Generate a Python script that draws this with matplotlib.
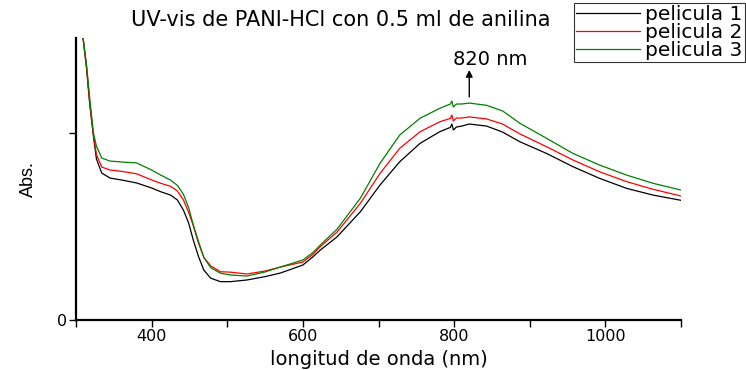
import matplotlib
matplotlib.use("Agg")
import matplotlib.pyplot as plt

# ----------------------------------------------------------------------
# DATA
# ----------------------------------------------------------------------
wavelength = [305, 309, 314, 318, 323, 327, 334, 345, 360, 380, 400, 412, 425,
              434, 442, 449, 455, 462, 469, 478, 491, 504, 526, 550, 570, 600,
              613, 623, 645, 676, 702, 728, 755, 781, 795, 797, 799, 803, 810,
              820, 843, 864, 887, 922, 957, 992, 1028, 1063, 1100]

pelicula_1 = [1.65, 1.519, 1.342, 1.160, 0.984, 0.861, 0.786, 0.759, 0.749,
              0.733, 0.706, 0.686, 0.668, 0.642, 0.588, 0.518, 0.428, 0.339,
              0.267, 0.224, 0.205, 0.205, 0.214, 0.232, 0.251, 0.294, 0.337,
              0.374, 0.444, 0.579, 0.722, 0.846, 0.945, 1.007, 1.030, 1.048,
              1.016, 1.032, 1.037, 1.048, 1.037, 1.005, 0.953, 0.891, 0.820,
              0.758, 0.704, 0.668, 0.640]

pelicula_2 = [1.65, 1.519, 1.350, 1.170, 0.990, 0.885, 0.818, 0.802, 0.795,
              0.782, 0.749, 0.731, 0.715, 0.690, 0.642, 0.575, 0.505, 0.410,
              0.335, 0.290, 0.258, 0.256, 0.246, 0.262, 0.283, 0.310, 0.350,
              0.392, 0.470, 0.624, 0.784, 0.918, 1.007, 1.060, 1.078, 1.096,
              1.064, 1.080, 1.080, 1.086, 1.075, 1.048, 0.995, 0.927, 0.856,
              0.793, 0.740, 0.699, 0.663]

pelicula_3 = [1.65, 1.520, 1.360, 1.190, 1.000, 0.930, 0.866, 0.850, 0.845,
              0.840, 0.802, 0.775, 0.748, 0.720, 0.672, 0.600, 0.510, 0.420,
              0.335, 0.280, 0.250, 0.241, 0.235, 0.257, 0.283, 0.321, 0.360,
              0.401, 0.485, 0.651, 0.838, 0.989, 1.079, 1.132, 1.155, 1.171,
              1.139, 1.155, 1.155, 1.160, 1.148, 1.118, 1.052, 0.972, 0.891,
              0.829, 0.775, 0.731, 0.695]

labels = ["pelicula 1", "pelicula 2", "pelicula 3"]
colors = ["black", "red", "green"]

x_major = [400, 600, 800, 1000]
x_minor = [300, 500, 700, 900, 1100]
peak_nm = 820

# ----------------------------------------------------------------------
# PLOT
# ----------------------------------------------------------------------
plt.rcParams["font.family"] = ["DejaVu Sans"]

fig = plt.figure(figsize=(7.46, 3.70), dpi=100)
ax = fig.add_axes([0.1019, 0.1351, 0.8110, 0.7622])

for ys, lab, c in zip([pelicula_1, pelicula_2, pelicula_3], labels, colors):
    ax.plot(wavelength, ys, color=c, lw=0.9, label=lab)

ax.set_xlim(300, 1100)
ax.set_ylim(0, 1.508)

for side in ("top", "right"):
    ax.spines[side].set_visible(False)
for side in ("left", "bottom"):
    ax.spines[side].set_linewidth(1.6)

ax.set_xticks(x_major)
ax.set_xticks(x_minor, minor=True)
ax.set_yticks([0, 1])
ax.set_yticklabels(["0", ""])
ax.tick_params(axis="both", which="both", direction="out", length=5,
               width=1.0, labelsize=11.5, pad=1.5)

ax.set_xlabel("longitud de onda (nm)", fontsize=14)
ax.xaxis.set_label_coords(0.5, -0.105)
ax.set_ylabel("Abs.", fontsize=13, labelpad=14,
              family=["Liberation Sans Narrow", "Liberation Sans"])

fig.text(0.457, 0.945, "UV-vis de PANI-HCl con 0.5 ml de anilina",
         ha="center", va="center", fontsize=15)

# arrow pointing up from the peak to the label
ax.annotate("", xy=(peak_nm, 1.337), xytext=(peak_nm, 1.193),
            arrowprops=dict(arrowstyle="-|>", color="black", lw=1.0,
                            shrinkA=0, shrinkB=0, mutation_scale=10))
ax.text(847, 1.34, "820 nm", ha="center", va="bottom", fontsize=14)

leg = ax.legend(loc="upper right", bbox_to_anchor=(0.998, 0.993),
                bbox_transform=fig.transFigure, fontsize=14.5, frameon=True,
                fancybox=False, borderpad=0.1, labelspacing=-0.05,
                handlelength=3.2, handletextpad=0.25, borderaxespad=0)
leg.get_frame().set_edgecolor("black")
leg.get_frame().set_linewidth(0.8)

fig.savefig("out.png", dpi=100)
